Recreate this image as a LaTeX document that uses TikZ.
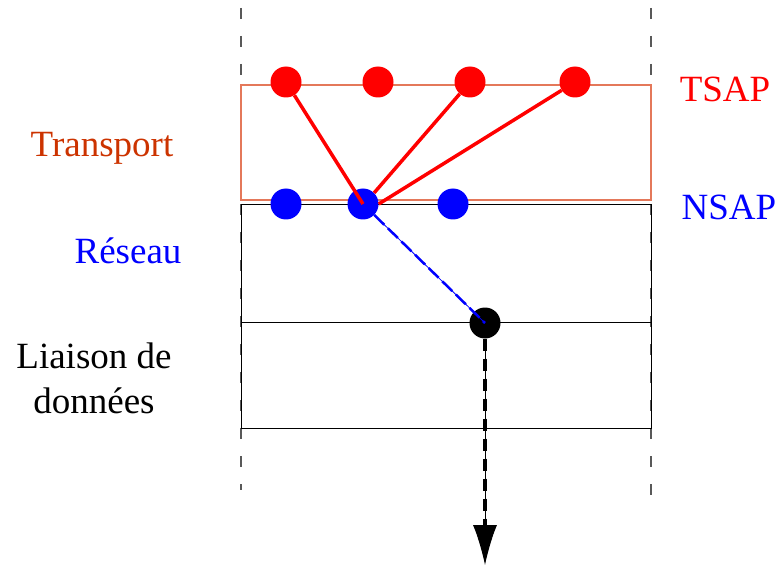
\documentclass[tikz,border=0pt]{standalone}
\usepackage{fontspec}
\setmainfont{Liberation Serif}
\usetikzlibrary{arrows.meta}

\definecolor{transcol}{RGB}{204,51,0}
\definecolor{boxorange}{RGB}{228,120,90}

\begin{document}
\begin{tikzpicture}[x=1pt,y=-1pt]

% Styles
\tikzset{
  dot/.style={circle,fill=#1,inner sep=0pt,minimum size=31pt},
  lbl/.style={anchor=base,font=\fontsize{37}{45}\selectfont}
}

\useasboundingbox (0,0) rectangle (780,567);

% Dashed side borders
\draw[gray!70!black, line width=1.5, dash pattern=on 11pt off 17pt] (241,8) -- (241,490);
\draw[gray!70!black, line width=1.5, dash pattern=on 11pt off 17pt] (651,8) -- (651,505);

% Layer boxes
\draw[boxorange, line width=1.2] (241,85) rectangle (651,200);
\draw[line width=1] (241,205) rectangle (651,322);
\draw[line width=1] (241,322) rectangle (651,428);

% TSAP dots
\node[dot=red] (t1) at (286,82) {};
\node[dot=red] (t2) at (378,82) {};
\node[dot=red] (t3) at (470,82) {};
\node[dot=red] (t4) at (575,82) {};

% NSAP dots
\node[dot=blue] (n1) at (286,204) {};
\node[dot=blue] (n2) at (363,204) {};
\node[dot=blue] (n3) at (453,204) {};

% Data link access point
\node[dot=black] (l1) at (485,323) {};
\coordinate (out) at (485,565);

% Transport connections
\draw[red, line width=3.5] (t1) -- (n2.center);
\draw[red, line width=3.5] (t3) -- (n2.north east);
\draw[red, line width=3.5] (t4) -- (n2.east);

% Network to data link
\draw[blue, line width=0.8] (n2) -- (l1.center);
\draw[blue, line width=2.5, dash pattern=on 14pt off 5pt] (n2) -- (l1.center);

% Outgoing flow
\draw[line width=1, -{Latex[length=40pt,width=24pt]}] (l1) -- (out);
\draw[line width=4, dash pattern=on 12pt off 8pt] (l1) -- (485,526);

% Labels
\node[lbl, text=red] (tsap) at (725,102) {TSAP};
\node[lbl, text=blue] (nsap) at (729,220) {NSAP};
\node[lbl, text=transcol] (transport) at (102,157) {Transport};
\node[lbl, text=blue] (reseau) at (128,263) {Réseau};
\node[lbl, align=center] (liaison) at (94,413) {Liaison de\\données};

\end{tikzpicture}
\end{document}
